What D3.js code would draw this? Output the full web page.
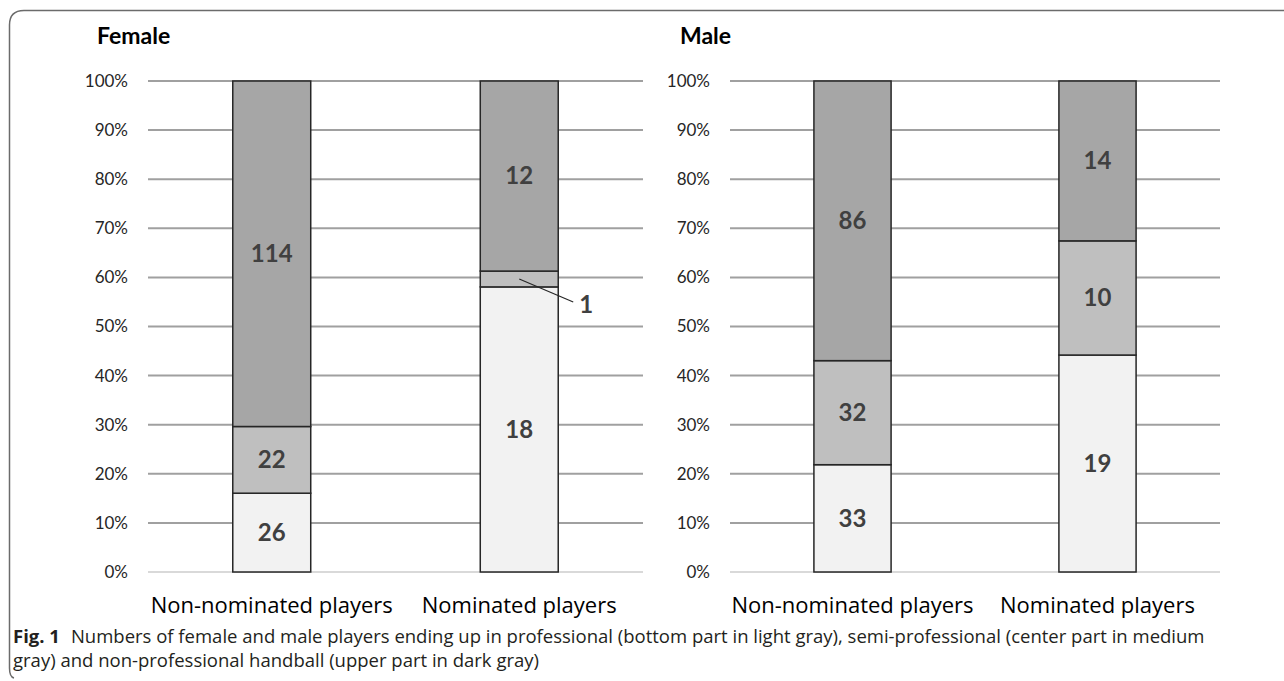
<!DOCTYPE html>
<html>
<head>
<meta charset="utf-8">
<script src="https://cdn.jsdelivr.net/npm/d3@7/dist/d3.min.js"></script>
<style>
  html, body { margin: 0; padding: 0; background: #fff; }
  svg { display: block; }
</style>
</head>
<body>
<svg id="chart" width="1284" height="681"></svg>
<script>
// Player groups and outcome levels (bottom to top)
const groups = ["Non-nominated players", "Nominated players"];
const levels = ["Professional", "Semi-professional", "Non-professional"];
const levelColors = ["#f2f2f2", "#bfbfbf", "#a6a6a6"];

// Counts per group: [professional, semi-professional, non-professional]
const femaleCounts = [[26, 22, 114], [18, 1, 12]];
const maleCounts = [[33, 32, 86], [19, 10, 14]];

const tickValues = [0, 0.1, 0.2, 0.3, 0.4, 0.5, 0.6, 0.7, 0.8, 0.9, 1.0];

const svg = d3.select("#chart");

// Frame: top and left edges with rounded corners
svg.append("path")
  .attr("d", "M1284,10.5 L24,10.5 Q9.5,10.5 9.5,25 L9.5,668 Q9.5,677 14,678")
  .attr("fill", "none")
  .attr("stroke", "#6b6b6b")
  .attr("stroke-width", 1.5);

const y = d3.scaleLinear().domain([0, 1]).range([572, 81]);

const numFont = "Lato, 'Open Sans', sans-serif";

function panel(title, counts, x0, x1, titleX, tickX) {
  const g = svg.append("g");
  const x = d3.scaleBand().domain(groups).range([x0, x1]).paddingInner(0.685).paddingOuter(0.3425);

  g.append("text").attr("x", titleX).attr("y", 44)
    .attr("font-family", numFont).attr("font-weight", "bold")
    .attr("font-size", 23).attr("fill", "#000").text(title);

  // Gridlines
  g.selectAll("line.grid").data(tickValues).join("line")
    .attr("x1", x0).attr("x2", x1)
    .attr("y1", d => y(d)).attr("y2", d => y(d))
    .attr("stroke", d => d === 0 ? "#d9d9d9" : "#a0a0a0")
    .attr("stroke-width", 2);

  // Tick labels
  g.selectAll("text.tick").data(tickValues).join("text")
    .attr("x", tickX).attr("y", d => y(d)).attr("dy", "0.35em")
    .attr("text-anchor", "end")
    .attr("font-family", numFont).attr("font-size", 17)
    .attr("fill", "#262626")
    .text(d => d3.format(".0%")(d));

  // Stacked percentage bars
  counts.forEach((c, i) => {
    const total = d3.sum(c);
    let cum = 0;
    const segs = c.map((v, k) => {
      const s = { v, k, a: cum / total, b: (cum + v) / total };
      cum += v;
      return s;
    });
    const bx = x(groups[i]), bw = x.bandwidth();
    g.selectAll(null).data(segs).join("rect")
      .attr("x", bx).attr("width", bw)
      .attr("y", d => y(d.b)).attr("height", d => y(d.a) - y(d.b))
      .attr("fill", d => levelColors[d.k])
      .attr("stroke", "#262626").attr("stroke-width", 1.5);

    segs.forEach(s => {
      const cx = bx + bw / 2, cy = (y(s.a) + y(s.b)) / 2;
      if (y(s.a) - y(s.b) < 24) {
        // Small segment: label placed outside with a leader line
        const lx = bx + bw + 21, ly = cy + 26;
        g.append("line").attr("x1", cx).attr("y1", cy).attr("x2", lx - 6).attr("y2", ly - 3)
          .attr("stroke", "#262626").attr("stroke-width", 1.2);
        g.append("text").attr("x", lx).attr("y", ly).attr("dy", "0.35em")
          .attr("font-family", numFont).attr("font-weight", "bold")
          .attr("font-size", 24).attr("fill", "#404040").text(s.v);
      } else {
        g.append("text").attr("x", cx).attr("y", cy).attr("dy", "0.35em")
          .attr("text-anchor", "middle")
          .attr("font-family", numFont).attr("font-weight", "bold")
          .attr("font-size", 24).attr("fill", "#404040").text(s.v);
      }
    });
  });

  // Category labels
  g.selectAll("text.cat").data(groups).join("text")
    .attr("x", d => x(d) + x.bandwidth() / 2)
    .attr("y", 613)
    .attr("text-anchor", "middle")
    .attr("font-family", "'Open Sans', sans-serif").attr("font-size", 22)
    .attr("fill", "#000").text(d => d);
}

panel("Female", femaleCounts, 148, 643, 97, 128);
panel("Male", maleCounts, 730, 1220, 680, 710);

// Figure caption
const capFont = "'Open Sans', sans-serif";
const cap = svg.append("text").attr("font-family", capFont).attr("font-size", 18.5).attr("fill", "#231f20");
cap.append("tspan").attr("x", 13).attr("y", 643).attr("font-weight", "bold").text("Fig. 1");
cap.append("tspan").attr("dx", 11).text("Numbers of female and male players ending up in professional (bottom part in light gray), semi-professional (center part in medium");
svg.append("text").attr("x", 13).attr("y", 667)
  .attr("font-family", capFont).attr("font-size", 18.5).attr("fill", "#231f20")
  .text("gray) and non-professional handball (upper part in dark gray)");
</script>
</body>
</html>
